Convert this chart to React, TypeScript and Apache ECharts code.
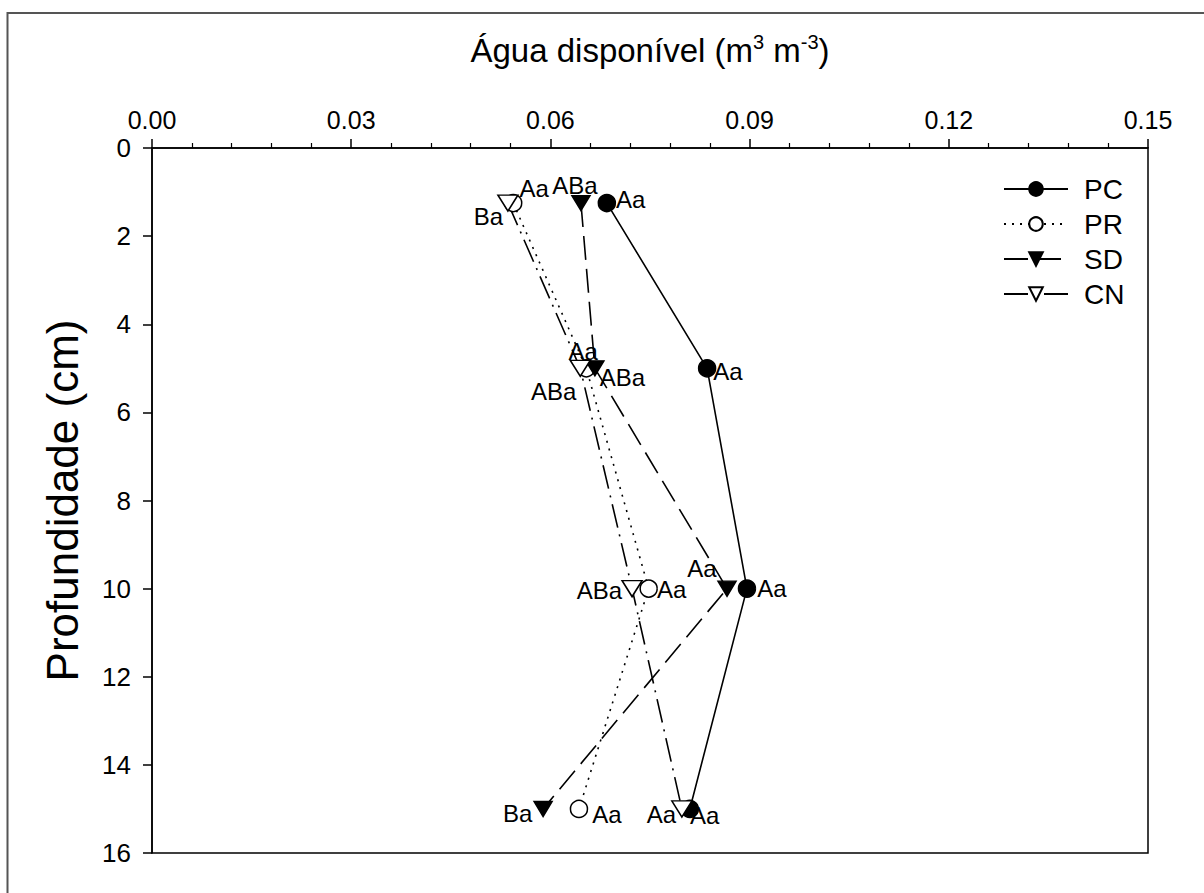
import React, { useEffect, useRef } from "react";
import * as echarts from "echarts";

// ---- Data ----
const depths = [1.25, 5, 10, 15];
const pcValues = [0.0685, 0.0836, 0.0896, 0.0810];
const prValues = [0.0544, 0.0654, 0.0748, 0.0643];
const sdValues = [0.0646, 0.0667, 0.0866, 0.0589];
const cnValues = [0.0536, 0.0645, 0.0723, 0.0798];
const pcLetters = ["Aa", "Aa", "Aa", "Aa"];
const prLetters = ["Aa", "Aa", "Aa", "Aa"];
const sdLetters = ["ABa", "ABa", "Aa", "Ba"];
const cnLetters = ["Ba", "ABa", "ABa", "Aa"];
const xTicks = [0, 0.03, 0.06, 0.09, 0.12, 0.15];
const seriesNames = ["PC", "PR", "SD", "CN"];

// ---- Label placement (style) ----
const pcLabelPos: [string, number[]][] = [["right", [-2, -4]], ["right", [-5, 3]], ["right", [-1, 0]], ["right", [-11, 7]]];
const prLabelPos: [string, number[]][] = [["right", [-5, -15]], ["top", [-3, 6]], ["right", [-3, 1]], ["right", [2, 6]]];
const sdLabelPos: [string, number[]][] = [["top", [-6, 5]], ["right", [-7, 9]], ["top", [-25, 2]], ["left", [1, 5]]];
const cnLabelPos: [string, number[]][] = [["left", [8, 13]], ["left", [9, 23]], ["left", [3, 2]], ["left", [7, 6]]];

const FONT = "'Liberation Sans', Arial, Helvetica, sans-serif";
const TRI_DOWN = "path://M0,0L20,0L10,17Z";

function buildData(values: number[], letters: string[], pos: [string, number[]][]) {
  return values.map((v, i) => ({
    value: [v, depths[i]],
    name: letters[i],
    label: { position: pos[i][0], offset: pos[i][1], distance: 2 },
  }));
}

export default function App() {
  const ref = useRef<HTMLDivElement>(null);
  useEffect(() => {
    if (!ref.current) return;
    const chart = echarts.init(ref.current, undefined, { renderer: "svg" });
    const labelCfg = {
      show: true,
      formatter: (p: any) => p.name,
      fontSize: 24,
      color: "#000",
      fontFamily: FONT,
    };
    const mk = (
      name: string,
      values: number[],
      letters: string[],
      pos: [string, number[]][],
      symbol: string,
      size: any,
      fill: string,
      lineType: any
    ) => ({
      name,
      type: "line",
      data: buildData(values, letters, pos),
      symbol,
      symbolSize: size,
      showSymbol: true,
      lineStyle: { color: "#000", width: 1.6, type: lineType },
      itemStyle: { color: fill, borderColor: "#000", borderWidth: 1.5 },
      label: labelCfg,
      emphasis: { disabled: true },
      z: 3,
    });
    chart.setOption({
      animation: false,
      backgroundColor: "#fff",
      textStyle: { fontFamily: FONT },
      graphic: [
        {
          type: "rect",
          shape: { x: 7.5, y: 13, width: 1400, height: 1200 },
          style: { fill: "none", stroke: "#555", lineWidth: 2 },
          silent: true,
        },
      ],
      grid: {
        left: 152,
        top: 148,
        width: 996,
        height: 705,
        show: true,
        borderColor: "#000",
        borderWidth: 1.5,
        backgroundColor: "transparent",
      },
      legend: {
        data: seriesNames,
        orient: "vertical",
        left: 1003,
        top: 175,
        padding: 0,
        itemWidth: 64,
        itemHeight: 17,
        itemGap: 7,
        textStyle: { fontSize: 28, color: "#000", fontFamily: FONT, padding: [0, 0, 0, 11] },
      },
      xAxis: {
        type: "value",
        position: "top",
        min: xTicks[0],
        max: xTicks[xTicks.length - 1],
        interval: 0.03,
        name: "{n|Água disponível (m}{s|3}{n| m}{s|-3}{n|)}",
        nameLocation: "middle",
        nameGap: 80,
        nameTextStyle: {
          rich: {
            n: { fontSize: 33, color: "#000", fontFamily: FONT },
            s: { fontSize: 20, color: "#000", fontFamily: FONT, verticalAlign: "top", padding: [0, 0, 16, 0] },
          },
        },
        axisLine: { show: true, lineStyle: { color: "#000", width: 1.5 } },
        axisTick: { show: true, inside: false, length: 9, lineStyle: { color: "#000", width: 1.5 } },
        minorTick: { show: true, splitNumber: 5, length: 5, lineStyle: { color: "#000", width: 1.2 } },
        splitLine: { show: false },
        axisLabel: {
          formatter: (v: number) => v.toFixed(2),
          fontSize: 25,
          color: "#000",
          margin: 16,
          fontFamily: FONT,
        },
      },
      yAxis: {
        type: "value",
        inverse: true,
        min: 0,
        max: 16,
        interval: 2,
        name: "Profundidade (cm)",
        nameLocation: "middle",
        nameGap: 68,
        nameTextStyle: { fontSize: 44, color: "#000", fontFamily: FONT },
        axisLine: { show: true, lineStyle: { color: "#000", width: 1.5 } },
        axisTick: { show: true, inside: false, length: 9, lineStyle: { color: "#000", width: 1.5 } },
        splitLine: { show: false },
        axisLabel: { fontSize: 26, color: "#000", margin: 21, fontFamily: FONT },
      },
      series: [
        mk("PC", pcValues, pcLetters, pcLabelPos, "circle", 17, "#000", "solid"),
        mk("PR", prValues, prLetters, prLabelPos, "circle", 17, "#fff", [2, 6]),
        mk("SD", sdValues, sdLetters, sdLabelPos, TRI_DOWN, [18, 15], "#000", [24, 9]),
        mk("CN", cnValues, cnLetters, cnLabelPos, TRI_DOWN, [20, 16], "#fff", [24, 7, 2, 7]),
      ],
    });
    return () => chart.dispose();
  }, []);
  return (
    <div
      ref={ref}
      style={{ position: "absolute", left: 0, top: 0, width: 1204, height: 893 }}
    />
  );
}
